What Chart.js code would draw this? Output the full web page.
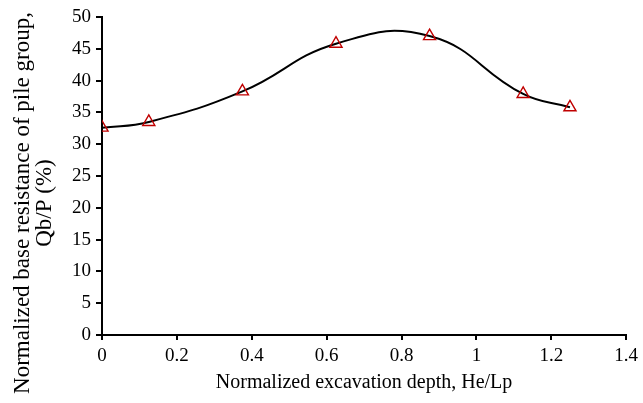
<!DOCTYPE html>
<html>
<head>
<meta charset="utf-8">
<script src="https://cdn.jsdelivr.net/npm/chart.js@4.4.1/dist/chart.umd.min.js"></script>
<style>
  html, body { margin: 0; padding: 0; background: #fff; }
  #wrap { width: 643px; height: 403px; }
</style>
</head>
<body>
<div id="wrap"><canvas id="grafico" width="643" height="403"></canvas></div>
<script>
// excavation depth He/Lp and base resistance Qb/P (%)
const profundidade = [0, 0.125, 0.375, 0.625, 0.875, 1.125, 1.25];
const resistencia = [32.6, 33.5, 38.3, 45.8, 47.0, 37.9, 35.8];
const xTicks = [0, 0.2, 0.4, 0.6, 0.8, 1, 1.2, 1.4];
const yTicks = [0, 5, 10, 15, 20, 25, 30, 35, 40, 45, 50];
const tituloY = ["Normalized base resistance of pile group,", "Qb/P (%)"];

const familia = "'Liberation Serif', 'Times New Roman', serif";
const fonteTick = { family: familia, size: 19 };

const pontos = profundidade.map((x, i) => ({ x: x, y: resistencia[i] }));

// y title is centred on the whole canvas height, not on the axis
const tituloVertical = {
  id: "tituloVertical",
  afterDraw(chart) {
    const ctx = chart.ctx;
    ctx.save();
    ctx.fillStyle = "#000";
    ctx.font = "23px " + familia;
    ctx.textAlign = "center";
    ctx.textBaseline = "middle";
    const xs = [23, 45];
    tituloY.forEach((linha, i) => {
      ctx.save();
      ctx.translate(xs[i], 203);
      ctx.rotate(-Math.PI / 2);
      ctx.fillText(linha, 0, 0);
      ctx.restore();
    });
    ctx.restore();
  }
};

new Chart(document.getElementById("grafico"), {
  type: "line",
  data: {
    datasets: [{
      data: pontos,
      borderColor: "#000",
      borderWidth: 2,
      tension: 0.45,
      pointStyle: "triangle",
      pointRadius: 7,
      pointBorderWidth: 1.4,
      pointBorderColor: "#c00000",
      pointBackgroundColor: "rgba(0,0,0,0)"
    }]
  },
  plugins: [tituloVertical],
  options: {
    responsive: false,
    animation: false,
    layout: { padding: { top: 17, right: 14, left: 6, bottom: 0 } },
    plugins: { legend: { display: false }, tooltip: { enabled: false } },
    scales: {
      x: {
        type: "linear",
        min: 0,
        max: 1.4,
        afterBuildTicks: s => { s.ticks = xTicks.map(v => ({ value: v })); },
        afterFit: s => { s.height = 68; },
        border: { display: true, color: "#000", width: 2 },
        grid: { drawOnChartArea: false, drawTicks: true, tickLength: 5, color: "#000", lineWidth: 2 },
        ticks: { color: "#000", font: fonteTick, padding: 5, maxRotation: 0, callback: v => String(v) },
        title: {
          display: true,
          text: "Normalized excavation depth, He/Lp",
          color: "#000",
          font: { family: familia, size: 20 },
          padding: { top: 0, bottom: 8 }
        }
      },
      y: {
        type: "linear",
        min: 0,
        max: 50,
        afterBuildTicks: s => { s.ticks = yTicks.map(v => ({ value: v })); },
        afterFit: s => { s.width = 96; },
        border: { display: true, color: "#000", width: 2 },
        grid: { drawOnChartArea: false, drawTicks: true, tickLength: 6, color: "#000", lineWidth: 2 },
        ticks: { color: "#000", font: fonteTick, padding: 5 }
      }
    }
  }
});
</script>
</body>
</html>
